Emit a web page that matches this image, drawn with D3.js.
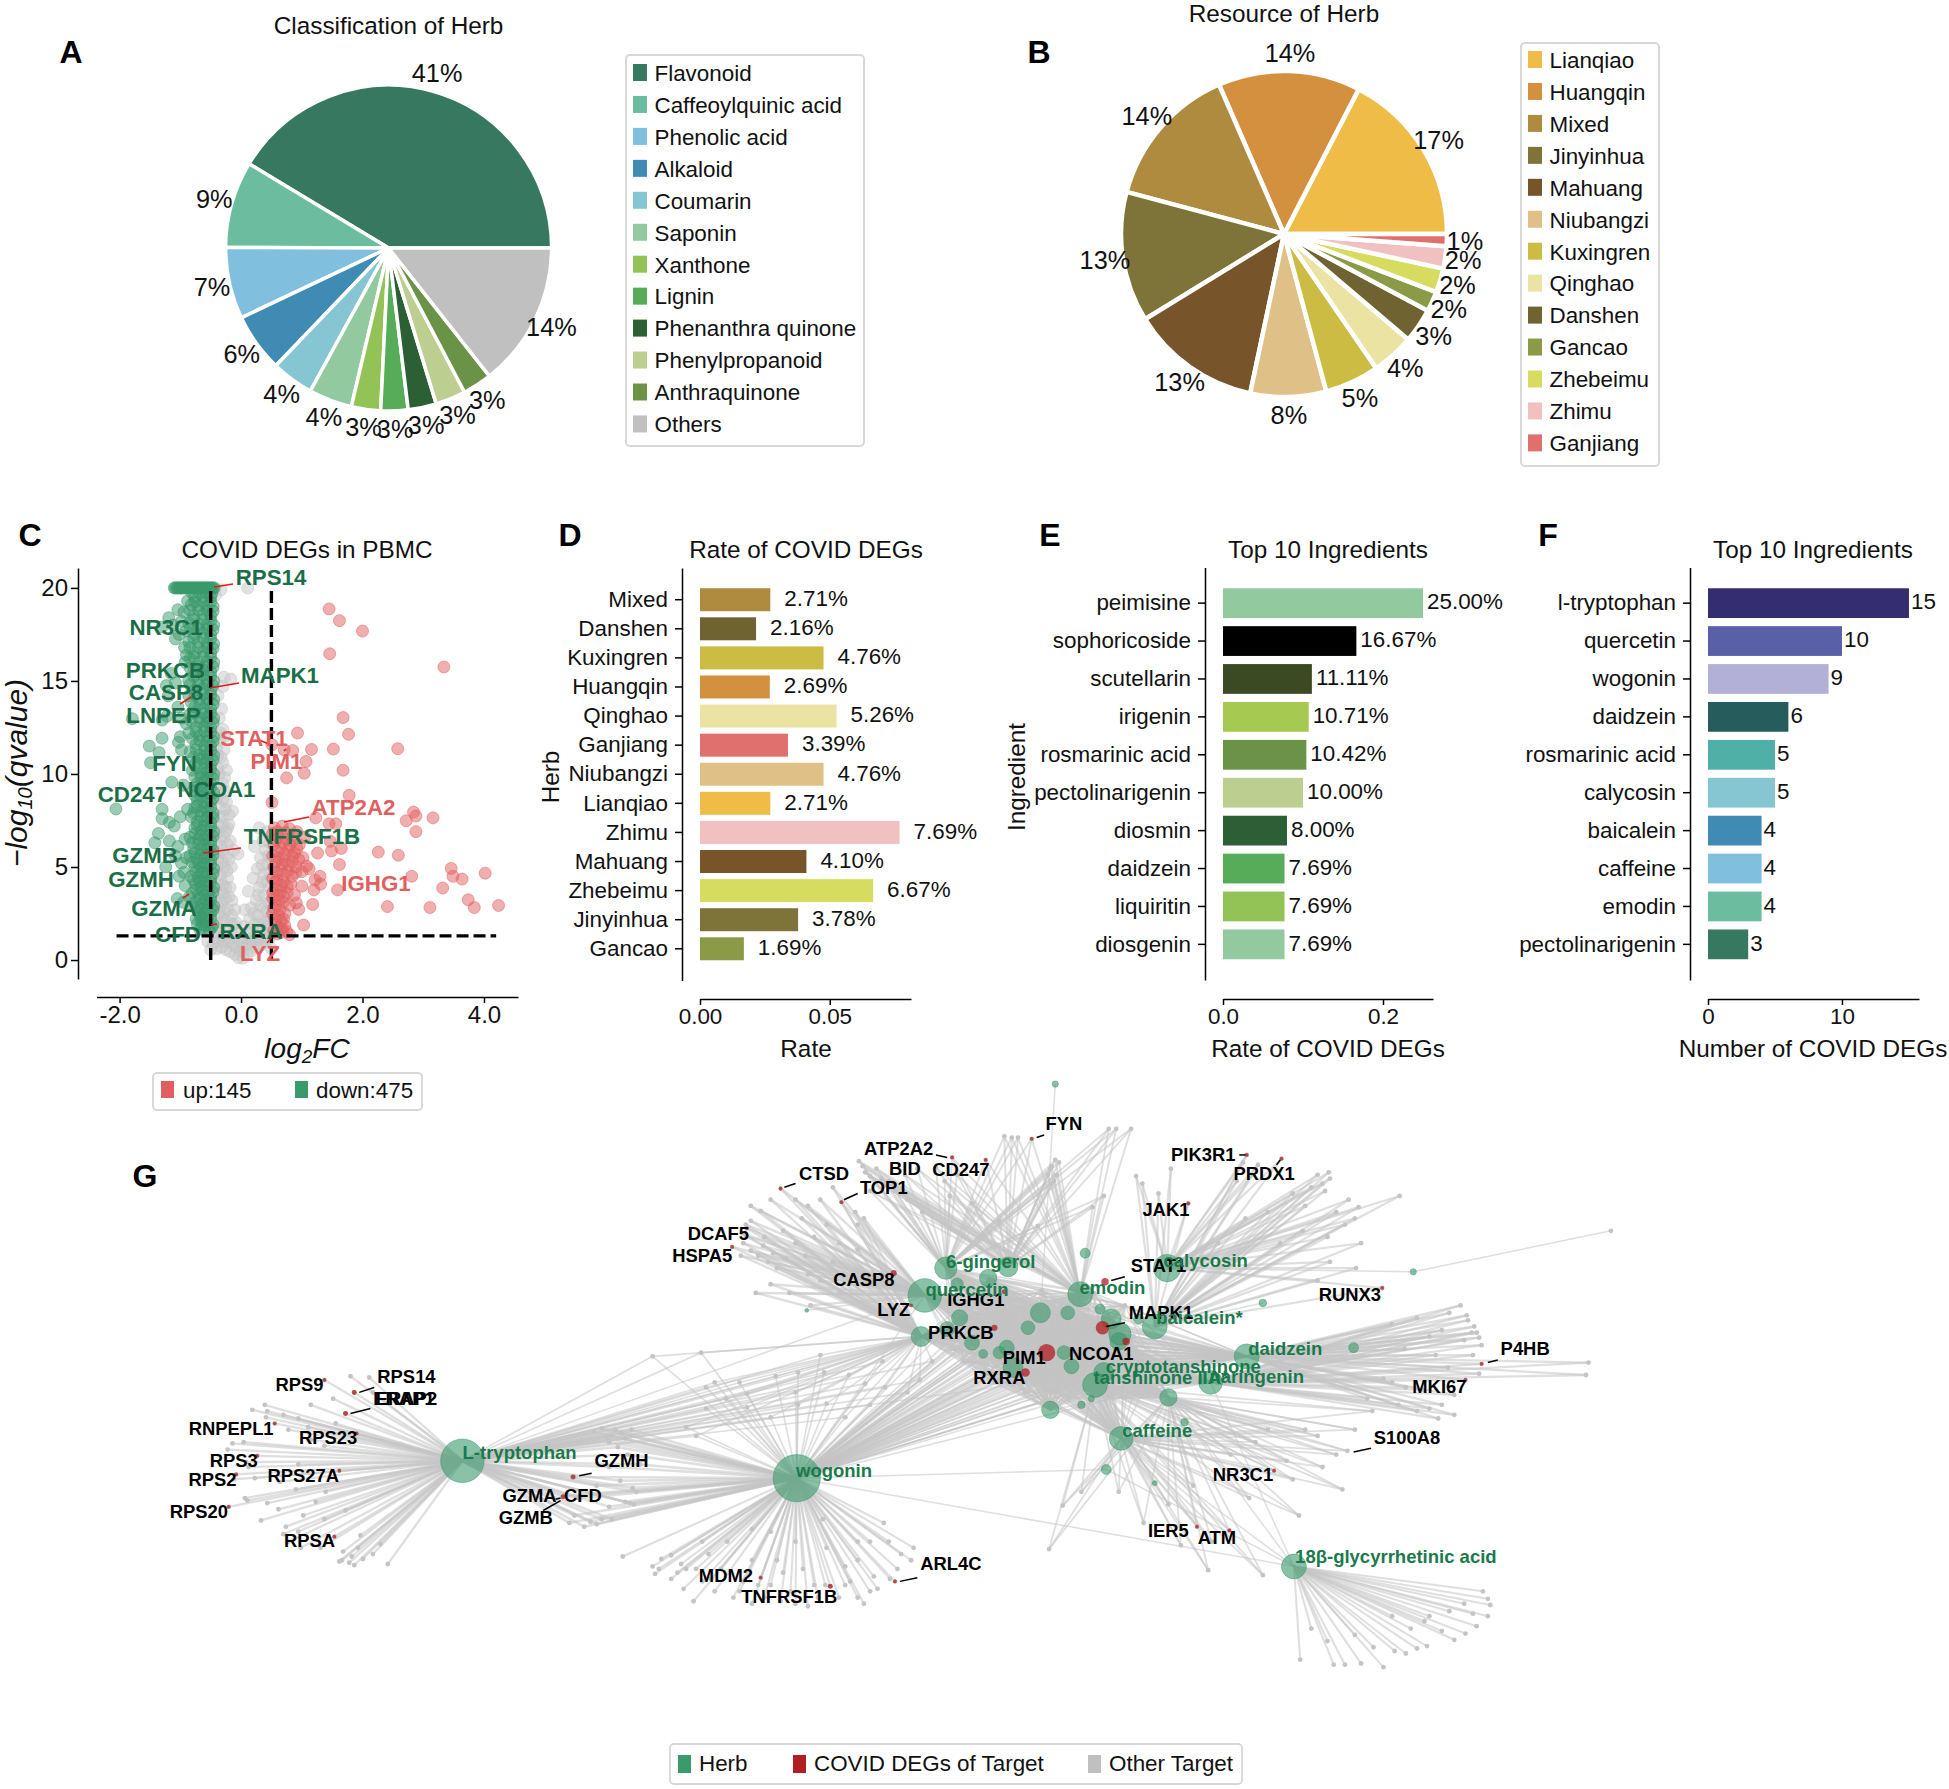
<!DOCTYPE html>
<html>
<head>
<meta charset="utf-8">
<script src="https://d3js.org/d3.v7.min.js"></script>
<style>
  body { margin: 0; background: #fff; }
  text { font-family: "Liberation Sans", Arial, sans-serif; fill: #111; }
</style>
</head>
<body>
<script>
// ---------- panel A / B data
const classNames = ['Flavonoid','Caffeoylquinic acid','Phenolic acid','Alkaloid','Coumarin','Saponin','Xanthone','Lignin','Phenanthra quinone','Phenylpropanoid','Anthraquinone','Others'];
const classShare = [41.4,8.6,7.1,5.8,4.2,4.3,2.9,2.7,2.8,3.0,2.9,14.4];
const classColors = ['#367860','#6cbca0','#80bfde','#3f8bb3','#86c6d2','#93c99f','#93c356','#56ac58','#2c5f34','#bccf90','#6b9348','#c0c0c0'];

const herbNames = ['Lianqiao','Huangqin','Mixed','Jinyinhua','Mahuang','Niubangzi','Kuxingren','Qinghao','Danshen','Gancao','Zhebeimu','Zhimu','Ganjiang'];
const herbShare = [17.4,14.1,14.3,12.9,12.9,7.5,5.4,4.2,3.4,2.0,2.4,2.2,1.2];
const herbColors = ['#efbc47','#d3903f','#ae8b3e','#7e7338','#775429','#dfc086','#cdbc44','#eae3a2','#6f6332','#8a9a47','#d6dc5f','#f1c1c2','#e0706e'];

// ---------- panels D / E / F data
const rateHerbs = ['Mixed','Danshen','Kuxingren','Huangqin','Qinghao','Ganjiang','Niubangzi','Lianqiao','Zhimu','Mahuang','Zhebeimu','Jinyinhua','Gancao'];
const rateValues = [2.71,2.16,4.76,2.69,5.26,3.39,4.76,2.71,7.69,4.10,6.67,3.78,1.69];

const rateIngredients = ['peimisine','sophoricoside','scutellarin','irigenin','rosmarinic acid','pectolinarigenin','diosmin','daidzein','liquiritin','diosgenin'];
const rateIngredientValues = [25.00,16.67,11.11,10.71,10.42,10.00,8.00,7.69,7.69,7.69];
const rateIngredientColors = ['#93c99f','#000000','#3b4a23','#a6c951','#6b9348','#bccf90','#2c5f34','#56ac58','#93c356','#93c99f'];

const countIngredients = ['l-tryptophan','quercetin','wogonin','daidzein','rosmarinic acid','calycosin','baicalein','caffeine','emodin','pectolinarigenin'];
const countValues = [15,10,9,6,5,5,4,4,4,3];
const countColors = ['#342d70','#5a60a8','#b2b0d6','#265c5c','#4fb0a8','#86c6d2','#3f8bb3','#80bfde','#6cbca0','#367860'];

// ---------- panel C data, [log2FC, -log10 q]
const volcanoOther = [[.11,20],[-.33,19.9],[-.42,19.6],[-.28,15.2],[-.17,15.1],[-.3,14.7],[-.38,14.2],[-.32,13.5],[-.36,13],[-.3,12.4],[-.27,12],[-.35,11.8],[-.28,11.3],[-.38,11],[-.3,10.6],[-.24,10.2],[-.36,10],[-.3,9.5],[-.26,9.1],[-.38,9],[-.3,8.6],[-.14,8],[-.26,8.1],[-.2,7.8],[-.35,7.7],[-.3,7.2],[-.22,7.1],[-.38,6.9],[-.28,6.6],[-.18,6.4],[-.33,6.1],[-.05,5.7],[-.12,5.9],[-.24,5.6],[-.38,5.4],[-.28,5],[-.16,5],[-.34,4.6],[-.22,4.4],[-.3,4],[-.18,3.9],[-.37,3.6],[-.26,3.3],[-.15,3.2],[-.32,2.9],[-.22,2.7],[-.1,2.7],[-.38,2.3],[-.28,2.2],[-.18,2],[-.08,2],[-.35,1.7],[-.24,1.5],[-.14,1.4],[-.04,1.5],
  [.3,7.1],[.42,6.9],[.36,6.4],[.22,6.1],[.4,5.9],[.32,5.5],[.44,5.2],[.27,4.9],[.37,4.6],[.2,4.4],[.42,4.2],[.3,3.9],[.12,3.7],[.39,3.5],[.25,3.2],[.33,2.9],[.17,2.8],[.42,2.6],[.06,2.7],[.27,2.4],[.36,2.1],[.14,2.2],[.22,1.9],[.44,1.8],[.05,1.8],[.32,1.6],[.12,1.5],[.42,1.4],
  [-.55,1],[-.46,.85],[-.5,.55],[-.38,1],[-.4,.6],[-.28,1],[-.32,.7],[-.2,.95],[-.25,.55],[-.13,.9],[-.18,.45],[-.08,.7],[-.1,.3],[-.02,.5],[-.04,.12],[.03,.1],[.04,.5],[.1,.35],[.1,.85],[.17,.5],[.18,1],[.24,.7],[.28,1.1],[.33,.8],[.4,1],[.46,1.1],[.5,.6],[.06,1.1],[-.04,1.05],
  [-.34,12.2],[-.4,11.4],[-.33,10.9],[-.38,10.3],[-.27,9.8],[-.33,9.2],[-.4,8.7],[-.24,8.5],[-.35,8.2],[-.2,7.3],[-.3,7.7],[-.38,7.3],[-.25,6.9],[-.34,6.6],[-.4,6.3],[-.22,6.2],[-.3,5.9],[-.37,5.7],[-.2,5.4],[-.31,5.3],[-.38,5],[-.23,4.8],[-.33,4.3],[-.39,4.1],[-.25,3.9],[-.35,3.2],[-.2,3.4],[-.3,3.6],[-.4,3],[-.27,2.6],[-.36,2.5],[-.15,2.4],[-.31,2],[-.21,1.2],[-.41,1.5],[-.3,1.3],[-.37,1.2],[-.12,1.9],
  [.47,6.3],[.45,5.6],[.35,5.1],[.47,4.7],[.35,4.2],[.47,3.9],[.29,3.5],[.46,3.1],[.38,2.8],[.47,2.3],[.21,2.5],[.4,2],[.3,1.9],[.47,1.6],[.38,1.3],[.2,1.3],[.14,1.1],[.3,.9],[.01,.9]];
const volcanoUp = [[1.45,18.87],[1.62,18.24],[2,17.68],[1.46,16.46],[3.34,15.75],[1.68,13.03],[.93,12.2],[1.77,12.13],[2.58,11.36],[1.16,11.32],[1.52,11.34],[.51,11.57],[.71,11.3],[.85,11.26],[1.07,10.67],[1.68,10.2],[1.04,10.04],[.75,9.79],[1.78,8.85],[.51,8.47],[2.84,7.95],[2.88,7.74],[3.16,7.64],[2.72,7.49],[1.23,7.64],[1.45,7.32],[1.56,7.32],[2.88,6.9],[2.26,5.8],[2.59,5.63],[1.26,5.75],[1.49,5.86],[1.65,6],[1.47,6.38],[1.62,5.13],[3.46,4.92],[4.02,4.67],[2.81,4.5],[3.49,4.5],[3.64,4.35],[3.32,3.87],[3.74,3.24],[3.84,2.82],[4.24,2.93],[3.11,2.82],[2.41,2.87],[1.59,3.77],[1,3.97],[1.3,4.5],[1.31,4.08],[1.2,3.77],[1.22,4.3],[1.18,2.99],[.95,2.72],[.91,3.07],[1.03,1.88],[.8,1.36],[.68,1.5],
  [.55,7.1],[.68,7.2],[.8,7.05],[.92,6.9],[1.05,6.6],[.52,6.8],[.62,6.6],[.74,6.5],[.85,6.4],[.96,6.2],[.54,6.2],[.66,6],[.78,5.95],[.88,5.75],[1.02,5.5],[.52,5.6],[.62,5.5],[.72,5.35],[.84,5.3],[1.08,5.05],[1.12,4.9],[.54,5],[.66,4.85],[.77,4.75],[.9,4.7],[1,4.75],[.52,4.4],[.6,4.3],[.7,4.2],[.82,4.1],[.56,3.8],[.66,3.7],[.76,3.6],[.88,3.5],[.52,3.3],[.62,3.2],[.7,3.1],[.8,2.95],[.54,2.8],[.64,2.7],[.72,2.5],[.56,2.2],[.66,2.1],[.62,1.75],[.72,1.85],[.54,1.6],[.75,1.55],[.6,1.4],
  [.6,6.9],[.73,6.85],[.86,6.7],[.57,6.45],[.68,6.3],[.8,6.2],[.92,6],[.6,5.85],[.72,5.7],[.84,5.6],[.95,5.4],[.58,5.3],[.68,5.15],[.78,5.1],[.9,5],[.58,4.7],[.7,4.6],[.84,4.5],[.56,4.2],[.66,4],[.76,3.95],[.52,3.6],[.6,3.5],[.7,3.4],[.58,2.95],[.52,2.5],[.62,2.4],[.7,2.2],[.58,1.9],[.68,1.65]];
const volcanoDown = [[-1.1,20],[-1.06,20],[-1.02,20],[-.98,20],[-.94,20],[-.9,20],[-.86,20],[-.82,20],[-.78,20],[-.74,20],[-.7,20],[-.66,20],[-.62,20],[-.58,20],[-.54,20],[-.5,20],[-.46,20],[-.44,20],
  [-1.08,20],[-1.04,20],[-1,20],[-.96,20],[-.92,20],[-.88,20],[-.84,20],[-.8,20],[-.76,20],[-.72,20],[-.68,20],[-.64,20],[-.6,20],[-.56,20],[-.52,20],[-.48,20],
  [-2.06,8.12],[-1.79,12.97],[-1.51,11.5],[-1.3,11.92],[-1.49,10.6],[-1.35,11.15],[-1.14,9.56],[-1.19,18.4],[-1.04,18.83],[-1.08,17.26],[-1.23,14.75],[-1.12,18],[-1.3,17.9],[-.88,19.3],[-.98,18.2],[-1.02,17.5],[-.93,16.8],[-.92,16],[-1.15,15.4],[-1.08,14.9],[-1.2,14.2],[-1.04,13.6],[-1.22,13.1],[-1.3,12.9],[-.98,13],[-1,12],[-1.03,11.7],[-.98,11.3],[-.95,9.4],[-1.3,8.1],[-1.3,7.6],[-1.18,7.4],[-1.1,7.2],[-1,7.7],[-.88,8.1],[-1.36,6.8],[-1.42,6.3],[-1.18,6.4],[-1.04,6.1],[-.92,6.5],[-1.24,5],[-1.08,5.6],[-.98,5.2],[-.9,5.5],[-.94,4.7],[-1.02,4.5],[-.92,4],[-1.05,3.3],[-.85,3.4],[-.95,3.1],[-.82,2.9],
  [-.52,1.6],[-.6,1.7],[-.68,1.65],[-.46,1.9],[-.56,2.1],[-.66,2.15],[-.74,2.2],[-.5,2.5],[-.6,2.55],[-.7,2.6],[-.45,2.9],[-.54,3],[-.64,3.05],[-.76,3.1],[-.5,3.4],[-.6,3.5],[-.7,3.5],[-.8,3.6],[-.45,3.9],[-.55,4],[-.66,3.95],[-.75,4.1],[-.5,4.4],[-.6,4.5],[-.7,4.45],[-.82,4.5],[-.45,4.9],[-.56,5],[-.66,4.95],[-.76,5],[-.5,5.4],[-.6,5.5],[-.72,5.4],[-.84,5.6],[-.46,5.9],[-.56,6],[-.66,5.9],[-.78,6],[-.5,6.4],[-.6,6.45],[-.7,6.5],[-.84,6.6],[-.45,6.9],[-.56,7],[-.66,6.95],[-.76,7.1],[-.5,7.4],[-.6,7.5],[-.72,7.45],[-.82,7.7],[-.46,7.9],[-.56,8],[-.66,8],[-.76,8.2],[-.5,8.5],[-.6,8.45],[-.72,8.6],[-.45,9],[-.56,9],[-.66,9.05],[-.78,9.1],[-.5,9.5],[-.6,9.6],[-.72,9.5],[-.45,10],[-.56,10.1],[-.66,10],[-.8,10.2],[-.5,10.5],[-.6,10.6],[-.74,10.6],[-.45,11],[-.56,11.05],[-.68,11],[-.84,11.2],[-.5,11.5],[-.6,11.5],[-.74,11.6],[-.45,12],[-.56,12],[-.68,12.05],[-.86,12.2],[-.5,12.5],[-.6,12.6],[-.74,12.5],[-.9,12.7],[-.45,13],[-.56,13.05],[-.68,13],[-.84,13.2],[-.5,13.5],[-.62,13.5],[-.76,13.6],[-.45,14],[-.56,14.05],[-.68,14],[-.86,14.2],[-.5,14.5],[-.62,14.6],[-.76,14.5],[-.45,15],[-.56,15],[-.7,15.1],[-.86,15],[-.5,15.5],[-.62,15.6],[-.78,15.5],[-.45,16],[-.56,16.05],[-.7,16],[-.84,16.2],[-.5,16.5],[-.62,16.6],[-.76,16.5],[-.9,16.4],[-.45,17],[-.56,17],[-.7,17.1],[-.86,17.1],[-.5,17.5],[-.62,17.6],[-.76,17.5],[-.9,17.7],[-.45,18],[-.56,18],[-.7,18.05],[-.86,18.1],[-.5,18.5],[-.62,18.6],[-.78,18.5],[-.94,18.7],[-.46,19],[-.56,19],[-.7,19.05],[-.82,19.1],[-.5,19.5],[-.62,19.5],[-.76,19.5],
  [-.48,1.75],[-.58,1.85],[-.64,1.9],[-.72,1.95],[-.5,2.25],[-.62,2.3],[-.68,2.4],[-.46,2.7],[-.56,2.75],[-.66,2.8],[-.72,2.85],[-.5,3.2],[-.58,3.25],[-.68,3.3],[-.46,3.65],[-.55,3.7],[-.64,3.75],[-.74,3.8],[-.5,4.2],[-.58,4.25],[-.68,4.2],[-.78,4.3],[-.46,4.65],[-.56,4.7],[-.64,4.72],[-.74,4.75],[-.5,5.15],[-.6,5.2],[-.7,5.2],[-.8,5.25],[-.46,5.65],[-.56,5.7],[-.66,5.65],[-.76,5.75],[-.5,6.15],[-.6,6.2],[-.7,6.25],[-.8,6.3],[-.46,6.65],[-.56,6.7],[-.66,6.7],[-.76,6.8],[-.5,7.15],[-.6,7.2],[-.72,7.25],[-.46,7.65],[-.56,7.7],[-.66,7.7],[-.78,7.9],[-.5,8.2],[-.6,8.2],[-.72,8.3],[-.46,8.7],[-.56,8.7],[-.66,8.8],[-.76,8.85],[-.5,9.25],[-.6,9.3],[-.72,9.3],[-.46,9.75],[-.56,9.8],[-.66,9.8],[-.76,9.85],[-.5,10.25],[-.6,10.3],[-.72,10.35],[-.46,10.75],[-.56,10.8],[-.66,10.8],[-.78,10.9],[-.5,11.25],[-.6,11.25],[-.74,11.3],[-.46,11.75],[-.56,11.75],[-.68,11.8],[-.8,11.9],[-.5,12.25],[-.6,12.3],[-.74,12.25],[-.46,12.75],[-.56,12.8],[-.68,12.8],[-.82,12.85],[-.5,13.25],[-.62,13.25],[-.76,13.3],[-.46,13.75],[-.56,13.8],[-.68,13.75],[-.82,13.85],[-.5,14.25],[-.62,14.3],[-.76,14.25],[-.46,14.75],[-.56,14.8],[-.7,14.8],[-.84,14.8],[-.5,15.25],[-.62,15.3],[-.78,15.25],[-.46,15.75],[-.56,15.8],[-.7,15.75],[-.84,15.7],[-.5,16.25],[-.62,16.3],[-.78,16.3],[-.46,16.75],[-.56,16.8],[-.7,16.8],[-.84,16.8],[-.5,17.25],[-.62,17.3],[-.78,17.3],[-.46,17.75],[-.56,17.8],[-.7,17.8],[-.84,17.8],[-.5,18.25],[-.62,18.3],[-.78,18.3],[-.46,18.75],[-.56,18.8],[-.7,18.8],[-.84,18.8],[-.5,19.25],[-.62,19.25],[-.76,19.25],[-.48,19.7],[-.58,19.75],[-.68,19.7],[-.8,19.7]];
const volcanoLabels = [['RPS14',271,577,'d'],['NR3C1',166,627,'d'],['PRKCB',165.5,670,'d'],['CASP8',166,692,'d'],['LNPEP',163.5,715,'d'],['MAPK1',280,675,'d'],['FYN',174.5,763,'d'],['NCOA1',216.5,789,'d'],['CD247',132.4,794,'d'],['TNFRSF1B',302,836.5,'d'],['GZMB',145,855.5,'d'],['GZMH',141,879,'d'],['GZMA',164,908,'d'],['CFD',178,934,'d'],['RXRA',251,931,'d'],['LYZ',260,953,'u'],['STAT1',254,738,'u'],['PIM1',276.5,761,'u'],['ATP2A2',353.5,807,'u'],['IGHG1',376,883,'u']];
const volcanoLeaders = [[214,587,233,584],[210,688,239,683],[180,704,193,696],[203,853,241,848],[183,898,189,894],[211,925,217,924],[267,943,272,937],[259,740,269,744],[284,751,286,749],[284,822,309,817]];

// ---------- panel G data, layout units of the network plot
const netHerbs = [['L-tryptophan',372,1175,17.5],['wogonin',641,1189,19],['quercetin',744,1042,13.5],['6-gingerol',761,1020,9],['',811,1019,8],['',795,1028,7],['',770,1033,5],['',772,1060,6.5],['',741,1075,8],['',762,1069,6],['',782,1080,6],['',810,1084,6],['',804,1088,5],['',791,1089,3.5],['',815,1100,8],['',827,1068,5.5],['',837,1056,8],['',859,1056,5.5],['emodin',869,1041,10],['',873,1008,4],['calycosin',939,1020,11],['',885,1053,4],['',894,1061,8],['',901,1073,9],['',900,1079,7],['baicalein*',929,1067,10],['',916,1061,4],['',856,1088,5.5],['',862,1099,6],['cryptotanshinone',888,1104,8],['tanshinone IIA*',881,1114,10],['naringenin',974,1112,9.5],['daidzein',1003,1091,10],['',1089,1084,4],['',940,1124,7],['',953,1144,3],['',845,1134,7],['',870,1130,3],['',878,1125,2.5],['caffeine',902,1157,9.5],['',890,1182,4],['',929,1193,2],['18β-glycyrrhetinic acid',1041,1260,10],['',1016,1048,3],['',1137,1023,2.5],['',849,872,2.5],['',649,1054,1.5]];
const herbLabelAt = [['L-tryptophan',418,1168],['wogonin',671,1183],['6-gingerol',797,1015],['quercetin',778,1037],['emodin',895,1036],['calycosin',970,1014],['baicalein*',965,1060],['daidzein',1034,1085],['cryptotanshinone',952,1099],['tanshinone IIA*',934,1108],['naringenin',1011,1107],['caffeine',931,1151],['18β-glycyrrhetinic acid',1123,1252]];
const geneLabels = [['CTSD',663,944],['TOP1',711,955],['ATP2A2',723,924],['BID',728,940],['CD247',773,941],['FYN',856,904],['PIK3R1',968,929],['PRDX1',1017,944],['JAK1',938,973],['DCAF5',578,992],['HSPA5',565,1010],['CASP8',695,1029],['LYZ',719,1053],['IGHG1',785,1045],['PRKCB',773,1072],['STAT1',932,1018],['MAPK1',934,1056],['PIM1',824,1092],['NCOA1',886,1089],['RXRA',804,1108],['RUNX3',1086,1041],['P4HB',1227,1085],['MKI67',1158,1115],['S100A8',1132,1156],['NR3C1',1000,1186],['IER5',940,1231],['ATM',979,1237],['ARL4C',765,1258],['MDM2',584,1267],['TNFRSF1B',635,1284],['GZMH',500,1175],['CFD',469,1203],['GZMA',426,1203],['GZMB',423,1221],['RPS14',327,1107],['ERAP2',327,1125],['ERAP1',325,1125],['RPS9',241,1114],['RNPEPL1',186,1149],['RPS23',264,1156],['RPS3',188,1175],['RPS2',171,1190],['RPS27A',244,1187],['RPS20',160,1216],['RPSA',249,1239]];
const geneLeaders = [[631,955,640,952],[679,965,690,960],[753,929,762,931],[834,915,840,913],[997,929,1002,929],[1027,937,1030,933],[894,1030,905,1027],[890,1067,905,1064],[1197,1096,1205,1094],[1089,1168,1103,1165],[724,1272,738,1269],[466,1187,476,1185],[289,1120,301,1116],[282,1137,298,1133],[437,1215,451,1207],[447,1206,451,1205]];
const covidTargets = [[628,956,1.5],[677,967,1.5],[766,931,1.5],[793,933,1.5],[830,916,1.5],[1003,929,1.5],[1031,932,1.5],[956,968,1.5],[601,988,1.5],[589,1003,1.5],[719,1024,2.5],[733,1050,1.5],[808,1039,2],[800,1068,2.5],[889,1031,3],[887,1068,5.5],[842,1088,7],[906,1079,3],[825,1104,3.5],[1112,1036,1.5],[1192,1097,1.5],[1179,1110,1.5],[1025,1183,1.5],[963,1228,1.5],[989,1231,1.5],[720,1272,1.5],[612,1269,1.5],[668,1276,2],[261,1110,1.5],[285,1120,2],[278,1137,2],[221,1145,1.5],[287,1153,1.5],[207,1171,1.5],[190,1186,1.5],[273,1183,1.5],[184,1212,1.5],[269,1236,1.5],[461,1188,2],[453,1204,2]];

const fanTryptophan = [[261,1110],[282,1107],[297,1108],[285,1120],[278,1137],[203,1134],[213,1130],[215,1135],[228,1138],[240,1141],[221,1145],[287,1153],[187,1161],[207,1171],[183,1166],[190,1186],[205,1189],[240,1178],[261,1163],[273,1183],[197,1205],[215,1209],[224,1214],[254,1208],[184,1212],[210,1223],[244,1219],[269,1236],[228,1234],[242,1245],[273,1256],[281,1257],[285,1259],[306,1242],[312,1258],[240,1232],[261,1222],[250,1130],[268,1125],[232,1150],[250,1158],[198,1176],[225,1192],[238,1198],[262,1200],[278,1215],[258,1245],[276,1248],[290,1235],[300,1250],[292,1254],[248,1148],[300,1120],[270,1145],[275,1255],[283,1252],[288,1245],[214,1140],[196,1160],[200,1180],[188,1190],[199,1207],[230,1228],[232,1240]];
const fanWogonin = [[501,1252],[527,1266],[532,1254],[540,1251],[525,1260],[540,1270],[550,1278],[545,1265],[565,1272],[580,1262],[570,1250],[585,1240],[565,1240],[575,1280],[590,1285],[605,1290],[615,1285],[612,1269],[620,1275],[636,1280],[640,1290],[655,1275],[664,1275],[668,1276],[695,1290],[700,1280],[706,1278],[716,1270],[720,1272],[735,1245],[733,1255],[680,1260],[715,1240],[665,1245],[605,1255],[625,1255],[690,1240],[605,1230],[552,1262],[558,1288],[598,1272],[630,1265],[646,1262],[650,1292],[675,1285],[684,1272],[690,1255],[711,1225],[722,1262],[662,1222],[640,1240],[620,1232],[530,1262],[548,1258],[560,1262],[572,1270],[595,1280],[610,1275],[628,1288],[658,1285],[690,1285],[703,1268],[725,1250],[700,1240],[680,1275]];
const sharedTrypWog = [[462,1188],[492,1155],[484,1149],[503,1157],[515,1178],[499,1191],[509,1197],[454,1203],[453,1204],[503,1208],[507,1209],[458,1225],[480,1226],[492,1222],[462,1219],[490,1160],[478,1152],[495,1150],[480,1195],[490,1212],[470,1228],[505,1170],[465,1205],[497,1164],[508,1150],[490,1180],[488,1157],[500,1153],[510,1210],[512,1200],[484,1222],[475,1224]];
const sharedMid = [[564,1088],[568,1116],[575,1112],[595,1112],[601,1121],[624,1107],[642,1104],[663,1104],[683,1106],[568,1133],[601,1132],[642,1130],[665,1129],[696,1113],[712,1116],[525,1091],[552,1148],[560,1155],[640,1120],[620,1140],[584,1125],[680,1140],[710,1095],[700,1130],[730,1120],[660,1090],[740,1110],[750,1095]];
const fanTopLeft = [[604,970],[612,974],[620,965],[628,956],[640,965],[650,970],[660,965],[670,955],[677,967],[688,975],[695,980],[600,985],[597,992],[601,988],[589,1003],[596,1010],[610,1010],[618,1015],[625,1020],[640,1000],[655,995],[665,985],[615,995],[630,990],[645,980],[675,1000],[690,1005],[650,1025],[660,1030],[675,1040],[635,1040],[620,1033],[608,1040],[670,1015],[652,1050],[690,985],[604,982],[648,1010],[600,994],[598,1000],[604,1006],[614,1002],[622,1008],[632,1012]];
const fanTop = [[808,914],[814,915],[819,915],[830,916],[892,908],[898,908],[910,908],[849,933],[846,938],[793,933],[766,931],[691,934],[696,943],[700,946],[709,948],[738,940],[753,939],[764,962],[782,968],[804,982],[835,986],[879,971],[888,962],[720,958],[742,975],[770,945],[845,940],[850,945],[848,950],[760,950],[700,958],[730,965],[843,945],[846,952],[852,935],[694,938],[705,940],[715,950],[728,945]];
const fanTopRight = [[914,946],[919,952],[932,960],[942,940],[956,968],[1003,929],[1031,932],[1069,943],[1070,948],[1064,952],[1093,971],[1126,962],[1082,985],[1091,1020],[1060,945],[1055,955],[1012,937],[1000,935],[995,950],[1040,960],[1020,975],[1075,975],[1048,990],[1030,1000],[1112,1036],[1095,1000],[1002,980],[980,1000],[1070,1015],[1060,1030],[1066,958],[1050,970],[1085,965],[1090,980],[1068,995],[1008,945]];
const fanRight = [[1166,1056],[1181,1062],[1186,1067],[1184,1072],[1190,1076],[1192,1082],[1192,1097],[1278,1096],[1276,1106],[1179,1110],[1170,1138],[1157,1141],[1150,1133],[1131,1116],[1113,1109],[1175,1050],[1165,1100],[1150,1075],[1130,1085],[1120,1065],[1155,1090],[1145,1118],[1190,1105],[1170,1122],[1125,1130],[1100,1125],[1160,1070],[1140,1060],[1180,1058],[1188,1072],[1178,1078],[1185,1090],[1160,1130],[1140,1135],[1120,1112]];
const fanLower = [[1084,1167],[1104,1135],[1064,1180],[1025,1183],[1080,1198],[1045,1219],[1016,1267],[972,1263],[989,1231],[963,1228],[950,1243],[844,1246],[855,1211],[1010,1160],[1035,1175],[990,1170],[960,1195],[1040,1190],[1005,1205],[975,1240],[940,1210],[1060,1155],[1090,1150],[920,1225],[900,1200],[870,1200],[1075,1170],[1050,1150],[1020,1150]];
const fanGlycyrrhetinic = [[1197,1286],[1199,1291],[1197,1300],[1188,1308],[1179,1314],[1170,1319],[1148,1324],[1140,1326],[1131,1330],[1113,1341],[1095,1338],[1082,1339],[1073,1339],[1046,1335],[1146,1304],[1166,1296],[1193,1280],[1185,1298],[1160,1312],[1122,1328],[1105,1325],[1135,1310],[1150,1300],[1090,1315],[1120,1300],[1178,1290],[1068,1320],[1055,1310]];
const centralTargets = [[790,1040],[805,1048],[822,1045],[838,1038],[852,1046],[872,1060],[820,1060],[800,1062],[785,1070],[812,1072],[834,1075],[850,1070],[868,1075],[880,1085],[828,1090],[810,1098],[795,1105],[838,1105],[852,1110],[870,1095],[892,1090],[905,1100],[845,1120],[825,1120],[905,1050],[920,1090],[860,1125],[775,1095],[765,1085],[880,1040],[815,1112],[895,1125],
  [798,1055],[815,1052],[830,1052],[845,1058],[862,1066],[826,1068],[842,1066],[856,1078],[872,1084],[818,1082],[832,1082],[846,1082],[860,1090],[806,1074],[794,1082],[822,1100],[832,1098],[846,1095],[858,1102],[872,1108],[884,1072],[838,1112],[868,1118],[782,1062],[800,1112],[912,1075],[928,1100],[880,1115]];
const centralHubs = [2,3,5,7,8,10,14,16,18,22,23,27,28,29,30,31,32,34,36,39,1];
const hubCrossLinks = [[40,39],[41,39],[42,39],[42,31],[42,34],[1,40],[1,42],[40,42],[0,2],[0,18],[0,29],[1,2],[1,16],[1,18],[1,14],[1,30],[44,20],[33,32],[43,25],[45,16],[46,2]];
const fanHubs = [[0],[1],[0,1],[0,1,8],[2,8],[3,4,18],[20,25],[32,31],[30,34,39],[42],centralHubs];
const fanWidths = [2.3,2.1,2.6,1.7,2.4,1.9,2.2,2.3,1.8,2.1,1.6];
// -- (end of data)

const svg = d3.select('body').append('svg').attr('width', 1949).attr('height', 1789);

const label = (g, t, x, y, size, opts = {}) => g.append('text')
  .attr('x', x).attr('y', y).attr('dy', '0.35em')
  .attr('text-anchor', opts.anchor || 'middle')
  .attr('font-size', size)
  .attr('font-weight', opts.weight || null)
  .style('fill', opts.fill || '#111')
  .text(t);

// panel letters
[['A',71,52],['B',1039,52],['C',30,535],['D',570,535],['E',1050,535],['F',1548,535],['G',145,1176]]
  .forEach(d => label(svg, d[0], d[1], d[2], 32, {weight: 'bold', fill: '#000'}));

// legend box used by the panels
const legendBox = (x, y, w, h) => svg.append('rect')
  .attr('x', x).attr('y', y).attr('width', w).attr('height', h).attr('rx', 4)
  .attr('fill', '#fff').attr('stroke', '#d8d8d8').attr('stroke-width', 2);

// ---------- pies
const drawPie = (cx, cy, title, titleY, shares, colors, gap) => {
  const r = 163;
  const g = svg.append('g').attr('transform', `translate(${cx},${cy})`);
  const pie = d3.pie().sort(null).startAngle(Math.PI / 2).endAngle(Math.PI / 2 - 2 * Math.PI);
  const arc = d3.arc().innerRadius(0).outerRadius(r);
  const labelArc = d3.arc().innerRadius(181).outerRadius(181);
  const arcs = pie(shares);
  g.selectAll('path').data(arcs).join('path')
    .attr('d', arc)
    .attr('fill', (d, i) => colors[i])
    .attr('stroke', '#fff').attr('stroke-width', gap);
  arcs.forEach(d => {
    const c = labelArc.centroid(d);
    label(g, Math.round(d.data) + '%', c[0], c[1], 25.3);
  });
  label(svg, title, cx, titleY, 24.3);
};
drawPie(388.6, 248, 'Classification of Herb', 25, classShare, classColors, 3.5);
drawPie(1284, 234, 'Resource of Herb', 13, herbShare, herbColors, 4.5);

const drawLegend = (x, y, w, h, names, colors, rowY) => {
  legendBox(x, y, w, h);
  const rows = d3.scalePoint().domain(names).range([rowY, rowY + 31.95 * (names.length - 1)]);
  names.forEach((n, i) => {
    svg.append('rect').attr('x', x + 7).attr('y', rows(n) - 9).attr('width', 14).attr('height', 17).attr('fill', colors[i]);
    label(svg, n, x + 28.5, rows(n), 22.4, {anchor: 'start'});
  });
};
drawLegend(626, 55, 238, 391, classNames, classColors, 73);
drawLegend(1521, 43, 138, 423, herbNames, herbColors, 60);

// ---------- axes helper
const styleAxis = (g, size = 22.4) => {
  g.selectAll('path,line').attr('stroke', '#000').attr('stroke-width', 1.5);
  g.selectAll('text').attr('font-size', size).style('fill', '#111');
};

// ---------- C volcano
const xC = d3.scaleLinear().domain([-2.38, 4.56]).range([96.5, 518]);
const yC = d3.scaleLinear().domain([-1.02, 21.07]).range([979, 568]);
const gC = svg.append('g');
const dots = (data, color) => gC.append('g').selectAll('circle').data(data).join('circle')
  .attr('cx', d => xC(d[0])).attr('cy', d => yC(d[1])).attr('r', 6)
  .attr('fill', color).attr('fill-opacity', 0.5)
  .attr('stroke', color).attr('stroke-opacity', 0.5);
dots(volcanoOther, '#c6c6c6');
dots(volcanoUp, '#e25f5f');
dots(volcanoDown, '#3a9a6c');
[[-.5, -.5, 0, 20], [.5, .5, 0, 20], [-2.05, 4.2, 1.3, 1.3]].forEach(d => gC.append('line')
  .attr('x1', xC(d[0])).attr('x2', xC(d[1])).attr('y1', yC(d[2])).attr('y2', yC(d[3]))
  .attr('stroke', '#000').attr('stroke-width', 3.4).attr('stroke-dasharray', '12 5'));
gC.selectAll('line.leader').data(volcanoLeaders).join('line').attr('class', 'leader')
  .attr('x1', d => d[0]).attr('y1', d => d[1]).attr('x2', d => d[2]).attr('y2', d => d[3])
  .attr('stroke', '#e01b1b').attr('stroke-width', 1.6);
volcanoLabels.forEach(d => label(gC, d[0], d[1], d[2], 22.3, {weight: 'bold', fill: d[3] === 'd' ? '#1a6e48' : '#e0605f'}));

svg.append('g').attr('transform', 'translate(78,0)')
  .call(d3.axisLeft(yC).tickValues([0, 5, 10, 15, 20]).tickSize(7).tickSizeOuter(0)).call(styleAxis, 24);
svg.append('g').attr('transform', 'translate(0,997)')
  .call(d3.axisBottom(xC).tickValues([-2, 0, 2, 4]).tickFormat(d => d.toFixed(1)).tickSize(6).tickSizeOuter(0)).call(styleAxis, 24);
label(svg, 'COVID DEGs in PBMC', 307, 549, 24.3);

const xl = svg.append('text').attr('x', 307).attr('y', 1058).attr('text-anchor', 'middle').attr('font-size', 28).attr('font-style', 'italic');
xl.append('tspan').text('log');
xl.append('tspan').attr('font-size', 19).attr('dy', 5).text('2');
xl.append('tspan').attr('dy', -5).text('FC');
const yl = svg.append('text').attr('transform', 'translate(27,773) rotate(-90)').attr('text-anchor', 'middle').attr('font-size', 30).attr('font-style', 'italic');
yl.append('tspan').text('−log');
yl.append('tspan').attr('font-size', 20).attr('dy', 5).text('10');
yl.append('tspan').attr('dy', -5).text('(qvalue)');

legendBox(153, 1073, 269, 37);
svg.append('rect').attr('x', 161).attr('y', 1081).attr('width', 13).attr('height', 17).attr('fill', '#e25f5f');
label(svg, 'up:145', 183, 1090, 22.4, {anchor: 'start'});
svg.append('rect').attr('x', 295).attr('y', 1081).attr('width', 13).attr('height', 17).attr('fill', '#3a9a6c');
label(svg, 'down:475', 316, 1090, 22.4, {anchor: 'start'});

// ---------- D E F bars
const drawBars = (o) => {
  const x = d3.scaleLinear().domain(o.domain).range([o.x0, o.x1]);
  const y = d3.scaleBand().domain(o.names).range(o.band).paddingInner(o.pi).paddingOuter(o.po);
  const g = svg.append('g');
  g.selectAll('rect').data(o.names).join('rect')
    .attr('x', x(0)).attr('y', d => y(d))
    .attr('width', (d, i) => x(o.values[i]) - x(0)).attr('height', y.bandwidth())
    .attr('fill', (d, i) => o.colors[i]);
  o.names.forEach((n, i) => label(g, o.fmt(o.values[i]), x(o.values[i]) + o.gap, y(n) + y.bandwidth() / 2 - 1.5, 22.4, {anchor: 'start'}));
  svg.append('g').attr('transform', `translate(${o.ax},0)`)
    .call(d3.axisLeft(y).tickSize(7).tickSizeOuter(0).tickPadding(7)).call(styleAxis);
  svg.append('g').attr('transform', 'translate(0,999)')
    .call(d3.axisBottom(x).tickValues(o.ticks).tickFormat(o.tickFmt).tickSize(6).tickSizeOuter(0)).call(styleAxis);
  label(svg, o.title, o.cx, 549, 24.3);
  label(svg, o.xlabel, o.cx, 1048, 24.3);
};
const toRate = arr => arr.map(v => v / 100);
drawBars({names: rateHerbs, values: toRate(rateValues), colors: rateHerbs.map(h => herbColors[herbNames.indexOf(h)]),
  domain: [0, 0.0813], x0: 700, x1: 911, pi: 0.21, po: 0.695, band: [568, 980.5], gap: 14, ax: 682,
  fmt: v => (v * 100).toFixed(2) + '%', ticks: [0, 0.05], tickFmt: d3.format('.2f'),
  title: 'Rate of COVID DEGs', xlabel: 'Rate', cx: 806});
drawBars({names: rateIngredients, values: toRate(rateIngredientValues), colors: rateIngredientColors,
  domain: [0, 0.2625], x0: 1223, x1: 1433, pi: 0.215, po: 0.5475, band: [567.5, 980], gap: 4, ax: 1205,
  fmt: v => (v * 100).toFixed(2) + '%', ticks: [0, 0.2], tickFmt: d3.format('.1f'),
  title: 'Top 10 Ingredients', xlabel: 'Rate of COVID DEGs', cx: 1328});
drawBars({names: countIngredients, values: countValues, colors: countColors,
  domain: [0, 15.75], x0: 1708, x1: 1919, pi: 0.215, po: 0.5475, band: [567.5, 980], gap: 2, ax: 1690,
  fmt: v => String(v), ticks: [0, 10], tickFmt: d3.format('d'),
  title: 'Top 10 Ingredients', xlabel: 'Number of COVID DEGs', cx: 1813});
const rot = (t, x, y) => svg.append('text').attr('transform', `translate(${x},${y}) rotate(-90)`).attr('dy', '0.35em')
  .attr('text-anchor', 'middle').attr('font-size', 24.3).style('fill', '#111').text(t);
rot('Herb', 550, 777);
rot('Ingredient', 1016, 777);

// ---------- G network
const netX = d3.scaleLinear().domain([0, 1568]).range([0, 1949]);
const netY = d3.scaleLinear().domain([0, 1439]).range([0, 1789]);
const netSize = d => netX(d) - netX(0);
const gG = svg.append('g');
const edges = [];
const hubAt = i => netHerbs[i];
const fans = [fanTryptophan, fanWogonin, sharedTrypWog, sharedMid, fanTopLeft, fanTop, fanTopRight, fanRight, fanLower, fanGlycyrrhetinic, centralTargets];
fans.forEach((leaves, f) => leaves.forEach(p => fanHubs[f].forEach(h => {
  const hub = hubAt(h);
  edges.push([hub[1], hub[2], p[0], p[1], fanWidths[f]]);
})));
hubCrossLinks.forEach(([a, b]) => edges.push([hubAt(a)[1], hubAt(a)[2], hubAt(b)[1], hubAt(b)[2], 1.5]));
edges.push([hubAt(44)[1], hubAt(44)[2], 1296, 990, 1.5]);

gG.append('g').selectAll('line').data(edges).join('line')
  .attr('x1', d => netX(d[0])).attr('y1', d => netY(d[1]))
  .attr('x2', d => netX(d[2])).attr('y2', d => netY(d[3]))
  .attr('stroke', '#c4c4c4').attr('stroke-opacity', 0.55).attr('stroke-width', d => d[4]);

const allLeaves = [].concat(...fans, [[1296, 990]]);
gG.append('g').selectAll('circle').data(allLeaves).join('circle')
  .attr('cx', d => netX(d[0])).attr('cy', d => netY(d[1])).attr('r', 2.4).attr('fill', '#c4c4c4');

gG.append('g').selectAll('circle').data(netHerbs).join('circle')
  .attr('cx', d => netX(d[1])).attr('cy', d => netY(d[2])).attr('r', d => netSize(d[3]))
  .attr('fill', '#3a9a6c').attr('fill-opacity', 0.6).attr('stroke', '#3a9a6c').attr('stroke-opacity', 0.5);
gG.append('g').selectAll('circle').data(covidTargets).join('circle')
  .attr('cx', d => netX(d[0])).attr('cy', d => netY(d[1])).attr('r', d => netSize(d[2]))
  .attr('fill', '#b01e22').attr('fill-opacity', 0.75);

gG.append('g').selectAll('line').data(geneLeaders).join('line')
  .attr('x1', d => netX(d[0])).attr('y1', d => netY(d[1]))
  .attr('x2', d => netX(d[2])).attr('y2', d => netY(d[3]))
  .attr('stroke', '#000').attr('stroke-width', 1.5);
geneLabels.forEach(d => label(gG, d[0], netX(d[1]), netY(d[2]), 18.4, {weight: 'bold', fill: '#000'}));
herbLabelAt.forEach(d => label(gG, d[0], netX(d[1]), netY(d[2]), 18.5, {weight: 'bold', fill: '#1a7a4c'}));

// network legend
legendBox(670, 1744, 572, 40);
[['Herb', '#3a9a6c', 678], ['COVID DEGs of Target', '#b01e22', 793], ['Other Target', '#c0c0c0', 1088]].forEach(d => {
  svg.append('rect').attr('x', d[2]).attr('y', 1755).attr('width', 13).attr('height', 18).attr('fill', d[1]);
  label(svg, d[0], d[2] + 21, 1763, 22.4, {anchor: 'start'});
});
</script>
</body>
</html>
